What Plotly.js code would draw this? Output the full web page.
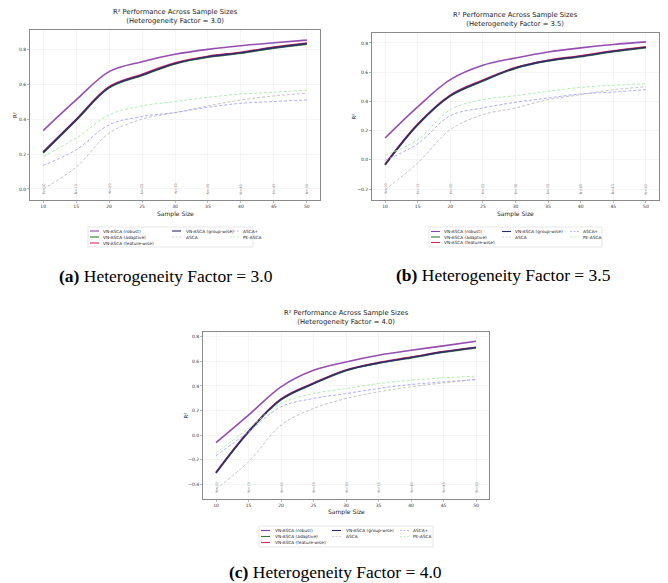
<!DOCTYPE html>
<html>
<head>
<meta charset="utf-8">
<script src="https://cdn.plot.ly/plotly-3.0.1.min.js"></script>
<style>
html,body{margin:0;padding:0;background:#fff;}
#chart{width:668px;height:583px;}
</style>
</head>
<body>
<div id="chart"></div>
<script>
// ---------- data ----------
const sampleSizes = [10, 15, 20, 25, 30, 35, 40, 45, 50];
const seriesNames = ['VN-ASCA (robust)', 'VN-ASCA (adaptive)', 'VN-ASCA (feature-wise)', 'VN-ASCA (group-wise)', 'ASCA', 'ASCA+', 'PE-ASCA'];
const panelFactors = ['3.0', '3.5', '4.0'];
const panelLetters = ['a', 'b', 'c'];

// Heterogeneity factor 3.0
const robustA   = [0.334, 0.509, 0.671, 0.728, 0.770, 0.798, 0.819, 0.836, 0.851];
const adaptiveA = [0.206, 0.392, 0.578, 0.649, 0.715, 0.753, 0.776, 0.805, 0.828];
const featureA  = [0.212, 0.399, 0.585, 0.656, 0.721, 0.759, 0.782, 0.811, 0.834];
const groupA    = [0.209, 0.395, 0.581, 0.652, 0.718, 0.756, 0.779, 0.808, 0.831];
const ascaA     = [0.000, 0.125, 0.319, 0.399, 0.437, 0.475, 0.509, 0.532, 0.547];
const ascaPlusA = [0.135, 0.224, 0.367, 0.414, 0.437, 0.467, 0.490, 0.500, 0.509];
const peAscaA   = [0.186, 0.291, 0.424, 0.475, 0.500, 0.524, 0.543, 0.553, 0.566];

// Heterogeneity factor 3.5
const robustB   = [0.149, 0.362, 0.549, 0.647, 0.697, 0.738, 0.766, 0.789, 0.807];
const adaptiveB = [-0.036, 0.238, 0.436, 0.539, 0.626, 0.676, 0.706, 0.740, 0.767];
const featureB  = [-0.030, 0.244, 0.443, 0.546, 0.632, 0.682, 0.712, 0.746, 0.773];
const groupB    = [-0.033, 0.241, 0.439, 0.542, 0.629, 0.679, 0.709, 0.743, 0.770];
const ascaB     = [-0.205, -0.022, 0.206, 0.309, 0.355, 0.412, 0.446, 0.480, 0.499];
const ascaPlusB = [-0.004, 0.110, 0.302, 0.355, 0.394, 0.423, 0.451, 0.464, 0.480];
const peAscaB   = [0.031, 0.138, 0.343, 0.412, 0.439, 0.469, 0.496, 0.510, 0.521];

// Heterogeneity factor 4.0
const robustC   = [-0.063, 0.162, 0.393, 0.528, 0.596, 0.651, 0.691, 0.727, 0.765];
const adaptiveC = [-0.311, 0.023, 0.287, 0.417, 0.525, 0.585, 0.629, 0.675, 0.710];
const featureC  = [-0.305, 0.030, 0.294, 0.424, 0.531, 0.591, 0.635, 0.681, 0.716];
const groupC    = [-0.308, 0.026, 0.290, 0.420, 0.528, 0.588, 0.632, 0.678, 0.713];
const ascaC     = [-0.441, -0.218, 0.080, 0.216, 0.298, 0.352, 0.393, 0.425, 0.452];
const ascaPlusC = [-0.169, 0.026, 0.230, 0.298, 0.338, 0.379, 0.412, 0.433, 0.452];
const peAscaC   = [-0.145, 0.053, 0.257, 0.338, 0.379, 0.420, 0.447, 0.466, 0.480];

const yTicksA = [0.0, 0.2, 0.4, 0.6, 0.8];
const yTicksB = [-0.2, 0.0, 0.2, 0.4, 0.6, 0.8];
const yTicksC = [-0.4, -0.2, 0.0, 0.2, 0.4, 0.6, 0.8];

// ---------- styling ----------
const W = 668, H = 583;
const px = v => v / W;
const py = v => 1 - v / H;

const styles = [
  {color: '#8e44ad', dash: 'solid', width: 1.6},
  {color: '#2e7d32', dash: 'solid', width: 1.6},
  {color: '#e0245e', dash: 'solid', width: 1.6},
  {color: '#272c6a', dash: 'solid', width: 1.6},
  {color: '#bdbdbd', dash: '3px,2px', width: 0.9},
  {color: '#a3a3ff', dash: '3px,2px', width: 0.9},
  {color: '#a6eca6', dash: '3px,2px', width: 0.9}
];

const panels = [
  {series: [robustA, adaptiveA, featureA, groupA, ascaA, ascaPlusA, peAscaA], yTicks: yTicksA,
   box: [30, 30, 320, 200], yr: [-0.063, 0.909], xr: [8, 52],
   titleY: 16, ylabX: 15, xlabY: 214,
   legBox: [88, 227, 253, 247], legRows: [231, 237, 243], legLine: [90, 172, 230], legText: [102, 185, 242],
   capX: 166, capY: 276},
  {series: [robustB, adaptiveB, featureB, groupB, ascaB, ascaPlusB, peAscaB], yTicks: yTicksB,
   box: [372, 33, 659, 200], yr: [-0.275, 0.868], xr: [8, 52],
   titleY: 19, ylabX: 354, xlabY: 214,
   legBox: [429, 227, 602, 247], legRows: [231.5, 237, 242.5], legLine: [431, 502, 570], legText: [443, 514, 582],
   capX: 504, capY: 275},
  {series: [robustC, adaptiveC, featureC, groupC, ascaC, ascaPlusC, peAscaC], yTicks: yTicksC,
   box: [203, 332, 489, 499], yr: [-0.522, 0.84], xr: [8, 52],
   titleY: 317.5, ylabX: 185, xlabY: 512,
   legBox: [259, 526, 433, 547], legRows: [530.5, 536.5, 542.5], legLine: [261, 332, 400], legText: [274, 345, 412],
   capX: 335, capY: 572}
];

const font = 'DejaVu Sans, Liberation Sans, sans-serif';
const traces = [];
const layout = {
  width: W, height: H,
  margin: {l: 0, r: 0, t: 0, b: 0},
  paper_bgcolor: '#ffffff', plot_bgcolor: '#ffffff',
  showlegend: false,
  font: {family: font, color: '#333'},
  annotations: [], shapes: []
};

panels.forEach((p, i) => {
  const sfx = i === 0 ? '' : String(i + 1);
  const xa = 'x' + sfx, ya = 'y' + sfx;
  p.series.forEach((vals, k) => {
    traces.push({
      x: sampleSizes, y: vals, type: 'scatter', mode: 'lines',
      name: seriesNames[k], xaxis: xa, yaxis: ya,
      line: {color: styles[k].color, width: styles[k].width, dash: styles[k].dash, shape: 'spline', smoothing: 1.0},
      opacity: k < 4 ? 0.95 : 1, hoverinfo: 'skip'
    });
  });
  layout['xaxis' + sfx] = {
    domain: [px(p.box[0]), px(p.box[2])], anchor: ya, range: p.xr,
    tickvals: sampleSizes, ticktext: sampleSizes.map(String),
    showgrid: true, gridcolor: '#eeeeee', gridwidth: 0.6, zeroline: false,
    showline: true, mirror: true, linecolor: '#8a8a8a', linewidth: 1,
    ticks: 'outside', ticklen: 2, tickcolor: '#8a8a8a', tickwidth: 0.6,
    tickfont: {size: 4.5, color: '#333', family: font}
  };
  layout['yaxis' + sfx] = {
    domain: [py(p.box[3]), py(p.box[1])], anchor: xa, range: p.yr,
    tickvals: p.yTicks, tickformat: '.1f',
    showgrid: true, gridcolor: '#eeeeee', gridwidth: 0.6, zeroline: false,
    showline: true, mirror: true, linecolor: '#8a8a8a', linewidth: 1,
    ticks: 'outside', ticklen: 2, tickcolor: '#8a8a8a', tickwidth: 0.6,
    tickfont: {size: 4.5, color: '#333', family: font}
  };
  // title
  layout.annotations.push({
    text: 'R² Performance Across Sample Sizes<br>(Heterogeneity Factor = ' + panelFactors[i] + ')',
    xref: 'paper', yref: 'paper', x: px((p.box[0] + p.box[2]) / 2), y: py(p.titleY),
    xanchor: 'center', yanchor: 'middle', showarrow: false,
    font: {size: 6.8, color: '#222', family: font}
  });
  // axis labels
  layout.annotations.push({
    text: 'Sample Size', xref: 'paper', yref: 'paper',
    x: px((p.box[0] + p.box[2]) / 2), y: py(p.xlabY), xanchor: 'center', yanchor: 'middle',
    showarrow: false, borderpad: 0, font: {size: 6, color: '#222', family: font}
  });
  layout.annotations.push({
    text: 'R²', xref: 'paper', yref: 'paper', x: px(p.ylabX), y: py((p.box[1] + p.box[3]) / 2),
    xanchor: 'center', yanchor: 'middle', textangle: -90, showarrow: false,
    font: {size: 5.5, color: '#222', family: font}
  });
  // N= markers
  sampleSizes.forEach(n => {
    layout.annotations.push({
      text: 'N=' + n, xref: xa, yref: ya + ' domain', x: n, y: 0, yshift: 4,
      xanchor: 'center', yanchor: 'bottom', textangle: -90, showarrow: false,
      font: {size: 3.6, color: '#888', family: font}
    });
  });
  // legend box
  layout.shapes.push({
    type: 'rect', xref: 'paper', yref: 'paper',
    x0: px(p.legBox[0]), x1: px(p.legBox[2]), y0: py(p.legBox[3]), y1: py(p.legBox[1]),
    line: {color: '#dddddd', width: 0.7}, fillcolor: 'rgba(255,255,255,0.9)', layer: 'above'
  });
  seriesNames.forEach((name, k) => {
    const col = k < 3 ? 0 : (k < 5 ? 1 : 2);
    const row = k < 3 ? k : (k < 5 ? k - 3 : k - 5);
    const yy = py(p.legRows[row]);
    layout.shapes.push({
      type: 'line', xref: 'paper', yref: 'paper',
      x0: px(p.legLine[col]), x1: px(p.legLine[col] + 9), y0: yy, y1: yy,
      line: {color: styles[k].color, width: k < 4 ? 1.1 : 0.7, dash: k < 4 ? 'solid' : '2px,1.5px'}, layer: 'above'
    });
    layout.annotations.push({
      text: name, xref: 'paper', yref: 'paper', x: px(p.legText[col]), y: yy,
      xanchor: 'left', yanchor: 'middle', showarrow: false, borderpad: 0,
      font: {size: 4.3, color: '#222', family: font}
    });
  });
  // caption
  layout.annotations.push({
    text: '<b>(' + panelLetters[i] + ')</b> Heterogeneity Factor = ' + panelFactors[i],
    xref: 'paper', yref: 'paper', x: px(p.capX), y: py(p.capY),
    xanchor: 'center', yanchor: 'middle', showarrow: false, borderpad: 0,
    font: {size: 17.5, color: '#000', family: 'Liberation Serif, Times New Roman, serif'}
  });
});

Plotly.newPlot('chart', traces, layout, {staticPlot: true, displayModeBar: false});
</script>
</body>
</html>
